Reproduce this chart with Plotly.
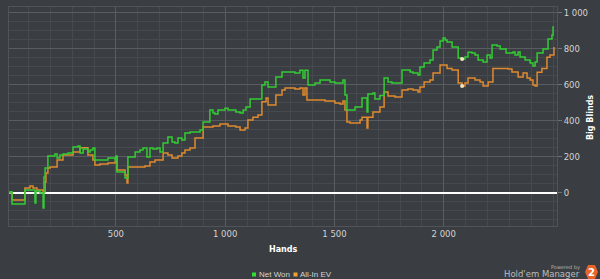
import plotly.graph_objects as go

# Net Won (Big Blinds) step series: hand number -> cumulative value
hands_net = [0, 16, 25, 84, 130, 134, 153, 167, 171, 176, 189, 221, 231, 244, 258, 281, 304, 327, 336,
             350, 372, 382, 395, 404, 464, 496, 501, 505, 542, 555, 588, 610, 624, 642, 656, 670, 688,
             702, 716, 738, 757, 770, 784, 802, 816, 839, 885, 899, 930, 944, 953, 967, 999, 1013, 1031,
             1049, 1068, 1082, 1095, 1114, 1168, 1182, 1196, 1232, 1260, 1297, 1319, 1342, 1356, 1365,
             1379, 1411, 1434, 1480, 1502, 1539, 1548, 1557, 1594, 1626, 1649, 1653, 1676, 1685, 1708,
             1727, 1745, 1763, 1809, 1846, 1859, 1882, 1891, 1910, 1937, 1951, 1969, 1983, 1997, 2006,
             2015, 2038, 2066, 2084, 2097, 2111, 2129, 2143, 2157, 2180, 2198, 2212, 2221, 2244, 2258,
             2285, 2317, 2326, 2340, 2349, 2372, 2395, 2408, 2418, 2427, 2454, 2477, 2495, 2500, 2504]
net_won = [0, 5, -63, 15, -57, 10, -2, -85, 87, 137, 204, 215, 193, 209, 215, 220, 254, 259, 221,
           243, 226, 237, 248, 182, 193, 182, 204, 115, 82, 198, 226, 237, 248, 198, 248, 243, 248,
           226, 276, 309, 282, 276, 304, 293, 332, 337, 348, 393, 459, 443, 437, 459, 470, 459, 459,
           448, 443, 459, 476, 521, 598, 615, 587, 643, 671, 671, 665, 680, 637, 680,
           598, 610, 626, 615, 610, 626, 543, 459, 476, 526, 448, 548, 554, 521, 540,
           637, 615, 610, 682, 671, 665, 654, 698, 721, 737, 793, 810, 843, 860, 848,
           837, 810, 748, 743, 754, 780, 776, 765, 737, 726, 765, 748, 821, 815, 799,
           776, 782, 765, 782, 754, 737, 721, 704, 726, 776, 799, 854, 876, 921, 921]

# All-In EV (Big Blinds) step series
hands_ev = [0, 16, 25, 84, 107, 121, 139, 153, 167, 176, 180, 189, 199, 231, 258, 304, 327, 336, 372,
            395, 404, 427, 464, 496, 501, 505, 542, 551, 555, 633, 656, 679, 716, 738, 757, 784, 802,
            816, 839, 862, 899, 944, 976, 1013, 1049, 1068, 1091, 1104, 1127, 1150, 1168, 1187, 1196,
            1232, 1260, 1274, 1319, 1342, 1356, 1365, 1374, 1434, 1457, 1480, 1502, 1525, 1539, 1548,
            1557, 1571, 1617, 1626, 1649, 1653, 1676, 1708, 1727, 1745, 1777, 1809, 1836, 1859, 1882,
            1891, 1910, 1937, 1951, 1983, 2015, 2038, 2066, 2084, 2097, 2111, 2129, 2143, 2166, 2180,
            2203, 2225, 2294, 2312, 2340, 2363, 2381, 2395, 2408, 2418, 2427, 2449, 2472, 2486, 2504]
allin_ev = [0, 0, -41, 26, 37, 26, 15, 15, 4, 60, 110, 137, 143, 182, 209, 226, 226, 250, 209,
            182, 154, 159, 165, 171, 200, 126, 98, 54, 143, 148, 171, 182, 221, 209, 193, 204, 221,
            237, 248, 304, 365, 371, 382, 371, 365, 348, 359, 404, 420, 432, 505, 526, 487,
            543, 571, 582, 576, 582, 543, 582, 515, 515, 509, 509, 498, 493, 509, 459,
            393, 387, 404, 420, 359, 420, 448, 476, 559, 537, 532, 571, 576, 571, 559,
            587, 615, 626, 665, 710, 690, 682, 610, 593, 610, 637, 637, 626, 615, 593,
            615, 690, 687, 671, 643, 665, 637, 626, 598, 593, 670, 690, 753, 765, 810]

# highlighted hand markers
marker_hand = [2084, 2084]
marker_value = [743, 593]

x_ticks = [500, 1000, 1500, 2000]
y_ticks = [0, 200, 400, 600, 800, 1000]

GREEN = "#33cc33"
ORANGE = "#e08a2e"
BG = "#3a3d41"
TXT = "#d4d4d4"

fig = go.Figure()
fig.add_trace(go.Scatter(x=hands_ev, y=allin_ev, mode="lines", line=dict(color=ORANGE, width=1.5, shape="hv"),
                         name="All-In EV", showlegend=False))
fig.add_trace(go.Scatter(x=hands_net, y=net_won, mode="lines", line=dict(color=GREEN, width=1.5, shape="hv"),
                         name="Net Won", showlegend=False))
fig.add_trace(go.Scatter(x=marker_hand, y=marker_value, mode="markers",
                         marker=dict(color="#f3e2c4", size=4), showlegend=False))

grid_major = "#595c60"
grid_minor = "#46494d"

fig.update_layout(
    width=600, height=279,
    margin=dict(l=9, r=43, t=7, b=53),
    paper_bgcolor=BG, plot_bgcolor=BG,
    separators=". ",
    font=dict(family="DejaVu Sans", size=9, color=TXT),
    xaxis=dict(range=[11, 2518], tickvals=x_ticks, showgrid=True, gridcolor=grid_major, gridwidth=1,
               zeroline=False, showline=True, linecolor="#505357", mirror=True,
               ticks="", tickfont=dict(size=8.5, color=TXT), separatethousands=True,
               minor=dict(dtick=100, tick0=0, showgrid=True, gridcolor=grid_minor, gridwidth=1)),
    yaxis=dict(range=[-185, 1032], tickvals=y_ticks, side="right", showgrid=True, gridcolor=grid_major,
               gridwidth=1, zeroline=True, zerolinecolor="#ffffff", zerolinewidth=2,
               showline=True, linecolor="#505357", mirror=True,
               ticks="outside", ticklen=4, tickcolor="#707377",
               tickfont=dict(size=8.5, color=TXT), separatethousands=True,
               minor=dict(dtick=50, tick0=0, showgrid=True, gridcolor=grid_minor, gridwidth=1)),
)

def px(x):
    return (x - 9) / 548.0

def py(y):
    return (226 - y) / 219.0

anns = [
    dict(text="<b>Hands</b>", x=px(283), y=py(249.5), font=dict(size=8, color="#ffffff")),
    dict(text="<b>Big Blinds</b>", x=px(590), y=py(118), textangle=-90, font=dict(size=8, color="#ffffff")),
    dict(text="Net Won", x=px(256.5), y=py(274.5), xanchor="left", font=dict(size=8, color=TXT, family="Liberation Sans")),
    dict(text="All-In EV", x=px(298), y=py(274.5), xanchor="left", font=dict(size=8, color=TXT, family="Liberation Sans")),
    dict(text="Powered by", x=px(582), y=py(267), xanchor="right", font=dict(size=5, color="#b8b8b8")),
    dict(text="Hold'em Manager", x=px(582), y=py(273.5), xanchor="right", font=dict(size=8.5, color="#bdbdbd", family="DejaVu Sans")),
    dict(text="<b>2</b>", x=px(591.5), y=py(272), font=dict(size=10, color="#ffffff")),
]
for a in anns:
    a.setdefault("xanchor", "center")
    a.update(xref="paper", yref="paper", showarrow=False, yanchor="middle")
    fig.add_annotation(**a)

shapes = [
    dict(type="rect", x0=px(252), x1=px(256), y0=py(276.5), y1=py(272.5), fillcolor="#33dd33", line=dict(width=0)),
    dict(type="rect", x0=px(293.5), x1=px(297.5), y0=py(276.5), y1=py(272.5), fillcolor="#f0a030", line=dict(width=0)),
    dict(type="path",
         path=f"M {px(588)} {py(265)} L {px(595)} {py(265)} L {px(598)} {py(272)} L {px(595)} {py(279)} "
              f"L {px(588)} {py(279)} L {px(585)} {py(272)} Z",
         fillcolor="#e8642a", line=dict(width=0)),
]
for s in shapes:
    s.update(xref="paper", yref="paper", layer="below")
    fig.add_shape(**s)

fig.write_html("out.html")
